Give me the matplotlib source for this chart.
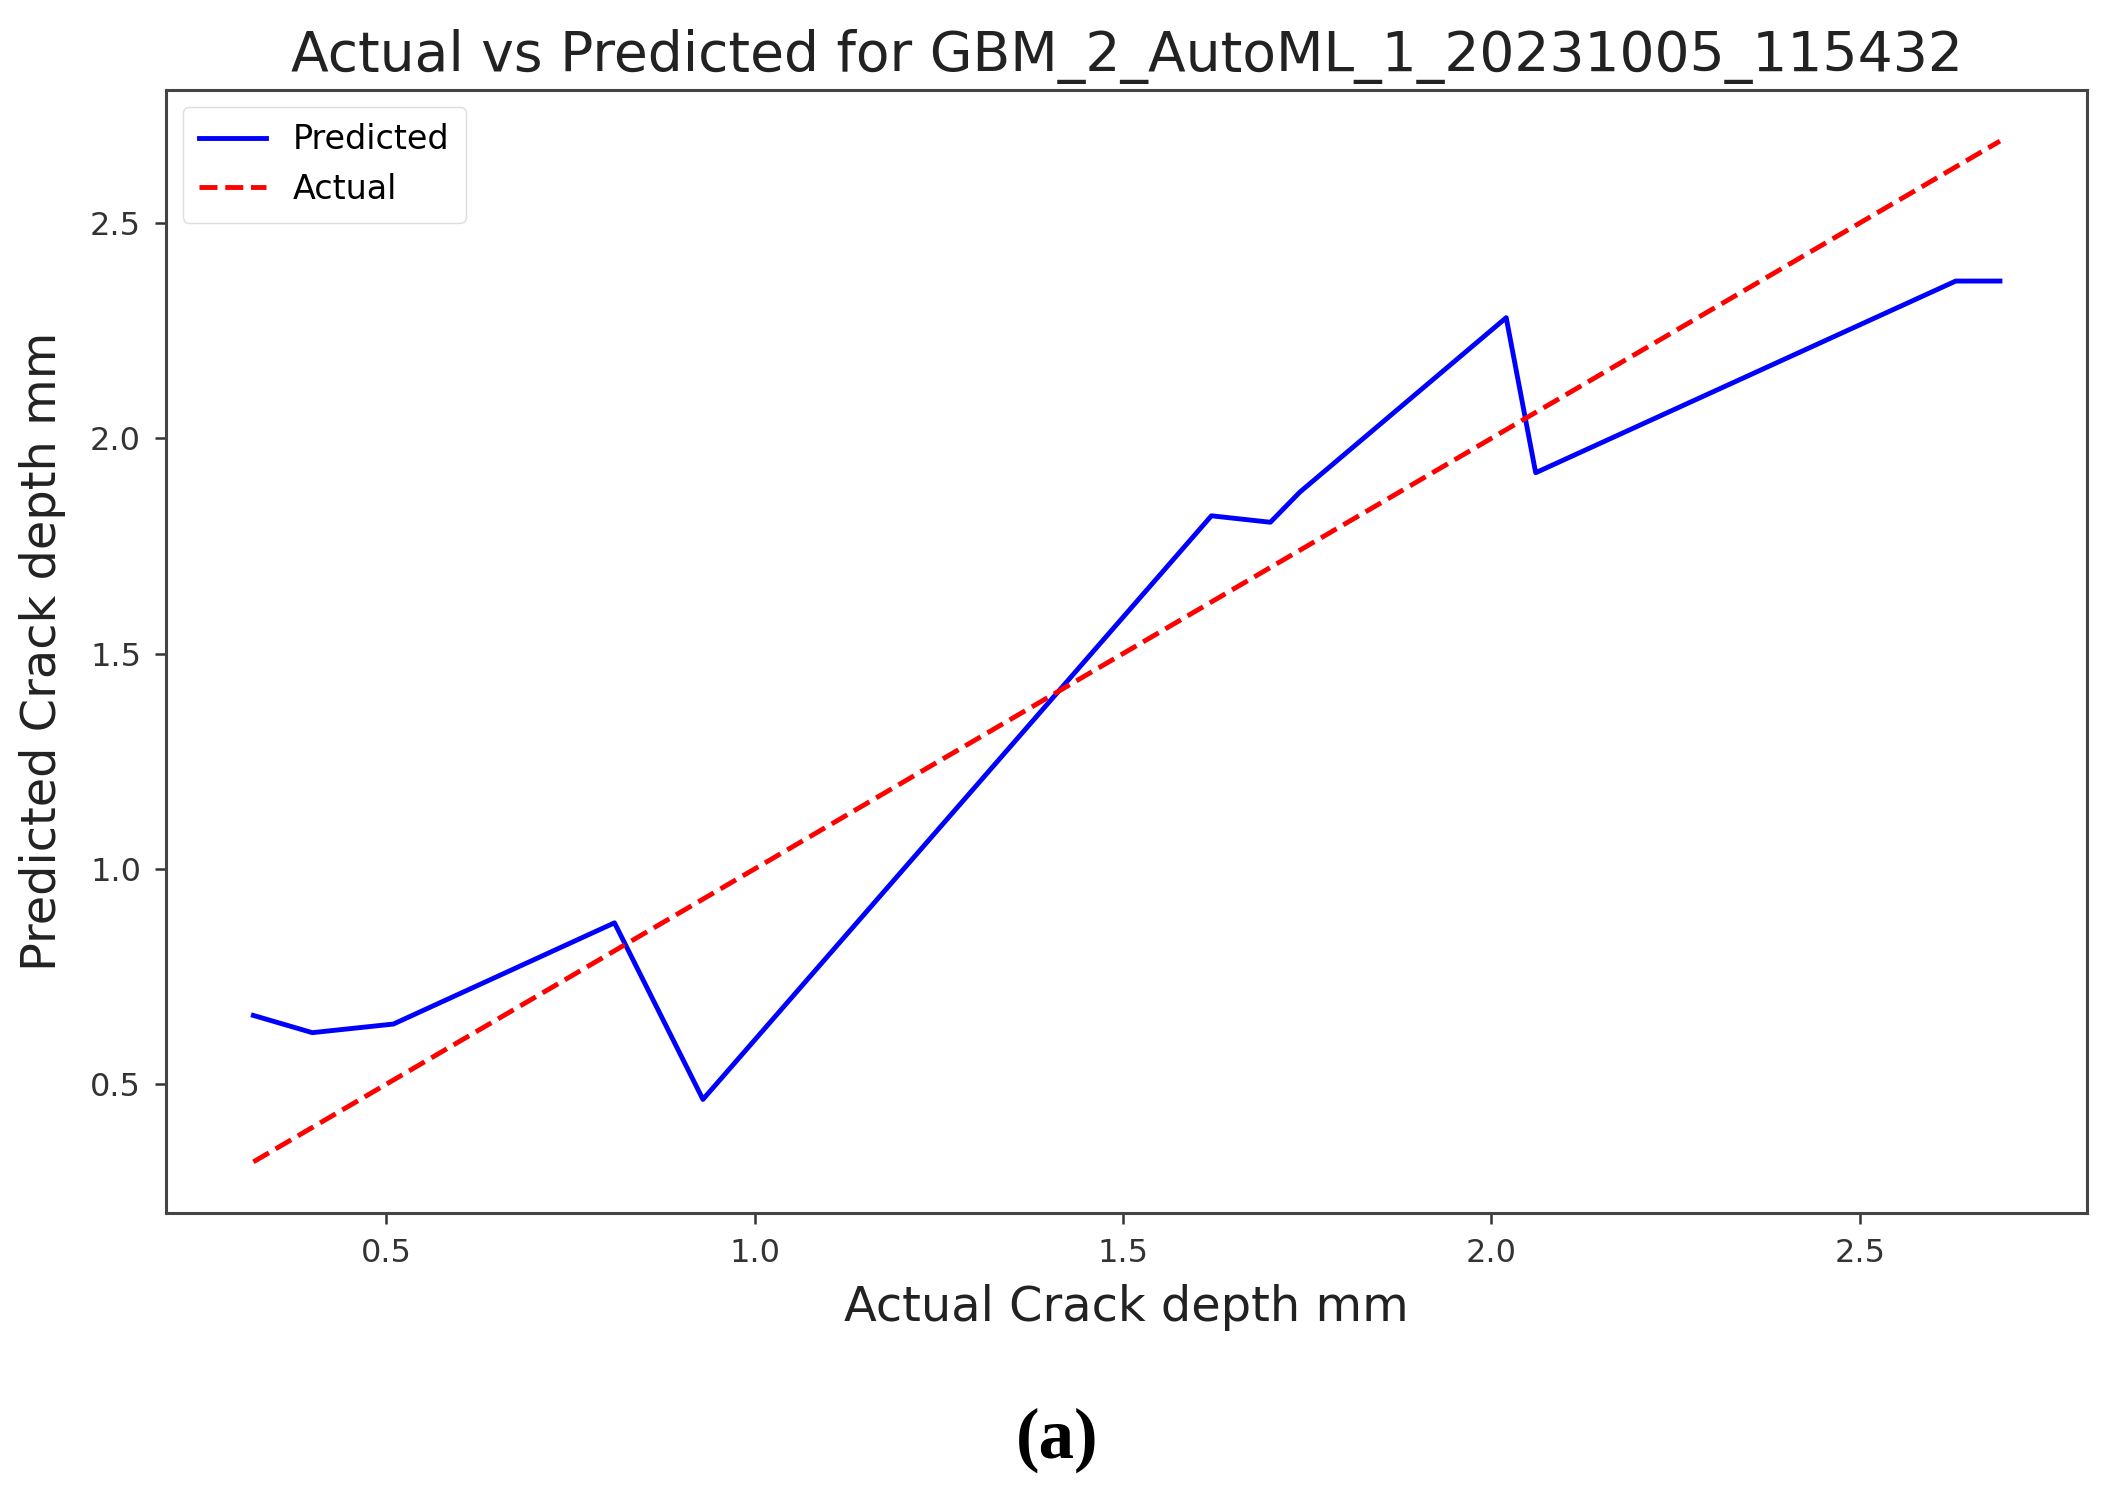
import numpy as np
import matplotlib.pyplot as plt

# actual crack depth (sorted) and model prediction
actual = [0.32, 0.40, 0.51, 0.81, 0.93, 1.62, 1.70, 1.74, 2.02, 2.06, 2.63, 2.69]
predicted = [0.66, 0.62, 0.64, 0.875, 0.465, 1.82, 1.805, 1.875, 2.28, 1.92, 2.365, 2.365]

fig = plt.figure(figsize=(21.02, 14.93), dpi=100)
ax = fig.add_axes([0.079, 0.1876, 0.914, 0.7521])

ax.plot(actual, predicted, color='blue', lw=3.5, label='Predicted')
ax.plot(actual, actual, color='red', lw=3.5, ls='--', label='Actual')

ax.set_title('Actual vs Predicted for GBM_2_AutoML_1_20231005_115432',
             fontsize=39.7, color='#222222', pad=14)
ax.set_xlabel('Actual Crack depth mm', fontsize=34.5, color='#222222', labelpad=11)
ax.set_ylabel('Predicted Crack depth mm', fontsize=34.5, color='#222222', labelpad=17)

ax.set_xticks([0.5, 1.0, 1.5, 2.0, 2.5])
ax.set_yticks([0.5, 1.0, 1.5, 2.0, 2.5])
ax.tick_params(labelsize=23, length=8, width=1.8, colors='#333333', pad=10)
for s in ax.spines.values():
    s.set_linewidth(2.2)
    s.set_color('#444444')

ax.legend(loc='upper left', fontsize=24, handlelength=2.0, borderpad=0.5,
          framealpha=1, edgecolor='#dddddd', fancybox=True)

fig.text(0.503, 0.035, '(a)', ha='center', va='center', fontsize=51,
         fontweight='bold', family='Liberation Serif')

fig.savefig('out.png', dpi=100)
